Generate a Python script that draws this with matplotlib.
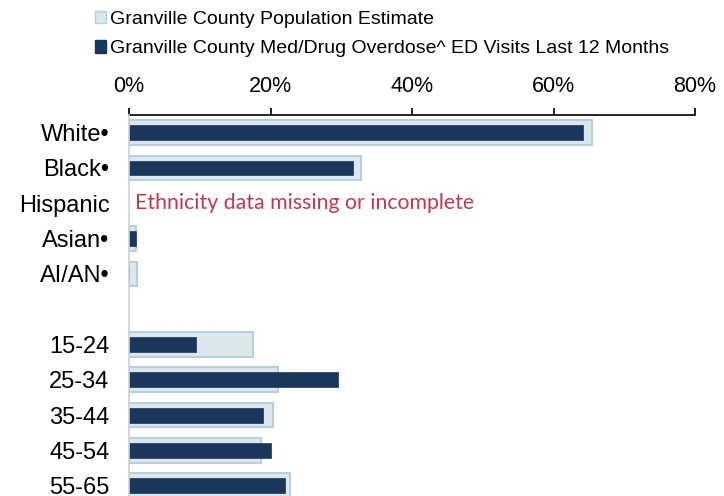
import matplotlib
matplotlib.use("Agg")
import matplotlib.pyplot as plt
from matplotlib.patches import Patch
import numpy as np

plt.rcParams['font.family'] = ['Liberation Sans', 'DejaVu Sans']

categories = ["White•", "Black•", "Hispanic", "Asian•", "AI/AN•", "",
              "15-24", "25-34", "35-44", "45-54", "55-65"]
population = [65.4, 32.8, np.nan, 1.0, 1.1, np.nan, 17.5, 21.0, 20.4, 18.7, 22.8]
ed_visits = [64.2, 31.6, np.nan, 1.0, 0.0, np.nan, 9.5, 29.5, 19.0, 20.0, 22.1]
xticks = [0, 20, 40, 60, 80]
xticklabels = ["0%", "20%", "40%", "60%", "80%"]
pop_label = "Granville County Population Estimate"
ed_label = "Granville County Med/Drug Overdose^ ED Visits Last 12 Months"
note = "Ethnicity data missing or incomplete"

light = "#dce6ed"
light_edge = "#b9cfdb"
dark = "#1b365d"

fig = plt.figure(figsize=(7.24, 4.96), dpi=100)
ax = fig.add_axes([0.1782, -0.0149, 0.7818, 0.7837])

y = np.arange(len(categories))
pop = np.array(population, dtype=float)
ed = np.array(ed_visits, dtype=float)
mp = ~np.isnan(pop)
me = ~np.isnan(ed)
ax.barh(y[mp], pop[mp], height=0.70, color=light, edgecolor=light_edge,
        linewidth=1.5, zorder=2)
ax.barh(y[me], ed[me], height=0.42, color=dark, edgecolor=dark,
        linewidth=0.5, zorder=3)

ax.text(0.8, 2, note, color="#c0394f", fontsize=15.3, family=['Lato', 'DejaVu Sans'],
        va='center', ha='left')

ax.set_xlim(0, 80)
ax.set_ylim(10.5, -0.51)
ax.xaxis.tick_top()
ax.set_xticks(xticks)
ax.set_xticklabels(xticklabels, fontsize=15.5)
ax.set_yticks(y)
ax.set_yticklabels(categories, fontsize=17)
ax.tick_params(axis='x', direction='out', length=5, width=1.2, pad=8, colors='black')
ax.tick_params(axis='y', length=0, pad=14)
for s in ['right', 'bottom']:
    ax.spines[s].set_visible(False)
ax.spines['top'].set_linewidth(1.2)
ax.spines['top'].set_color('black')
ax.spines['left'].set_color('#d0d0d0')
ax.spines['left'].set_linewidth(1.2)
ax.spines['left'].set_zorder(4)

handles = [Patch(facecolor=light, edgecolor=light_edge, linewidth=1.0, label=pop_label),
           Patch(facecolor=dark, edgecolor=dark, label=ed_label)]
fig.legend(handles=handles, loc='upper left', bbox_to_anchor=(0.112, 1.005),
           frameon=False, fontsize=14, handlelength=0.6, handleheight=0.6,
           handletextpad=0.2, labelspacing=0.62, borderaxespad=0.3)

fig.savefig("out.png", dpi=100)
